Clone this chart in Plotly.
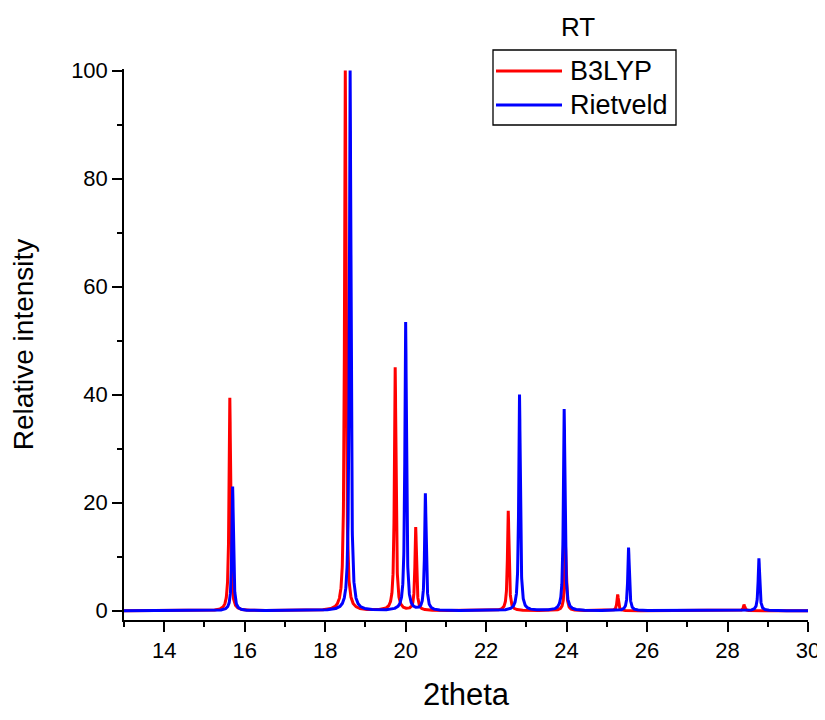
import numpy as np
import plotly.graph_objects as go

# Peak positions (2theta, deg) and relative intensities
b3lyp_pos = [15.63, 18.50, 19.74, 20.25, 22.55, 23.97, 25.27, 28.41]
b3lyp_int = [39.4, 100.0, 45.0, 15.4, 18.5, 12.5, 3.0, 1.1]

rietveld_pos = [15.70, 18.62, 20.00, 20.49, 22.83, 23.94, 25.54, 28.78]
rietveld_int = [23.0, 100.0, 53.4, 21.6, 40.0, 37.3, 11.7, 9.7]

series_names = ["B3LYP", "Rietveld"]
series_colors = ["#ff0000", "#0000ff"]

FWHM = 0.045  # peak width used to render the profiles
x_grid = np.arange(13.0, 30.0001, 0.002)


def profile(positions, intensities):
    y = np.zeros_like(x_grid)
    hw = FWHM / 2.0
    for p, h in zip(positions, intensities):
        y += h * hw**2 / ((x_grid - p) ** 2 + hw**2)
    return y


fig = go.Figure()
for name, color, pos, inten in zip(series_names, series_colors,
                                    [b3lyp_pos, rietveld_pos], [b3lyp_int, rietveld_int]):
    fig.add_trace(go.Scatter(x=x_grid, y=profile(pos, inten), mode="lines",
                             name=name, line=dict(color=color, width=3)))

font_family = "Liberation Sans, Arial, sans-serif"

# the page has an 8px body margin; figure offset by 8px
W, H = 817, 704
L, T = 116, 61
PW, PH = 684, 551
OFF = 8


def px(xp):
    return (xp - OFF - L) / PW


def py(yp):
    return 1 - (yp - OFF - T) / PH


shapes = [dict(type="rect", xref="paper", yref="paper",
               x0=px(493), x1=px(676), y0=py(50), y1=py(125),
               line=dict(color="black", width=1.3), fillcolor="white", layer="above")]
annotations = [dict(text="RT", x=px(578), y=py(27), xref="paper", yref="paper",
                    showarrow=False, xanchor="center", yanchor="middle",
                    font=dict(size=26, family=font_family))]
row_y = [71, 105]
for name, color, ry in zip(series_names, series_colors, row_y):
    shapes.append(dict(type="line", xref="paper", yref="paper",
                       x0=px(496), x1=px(562), y0=py(ry), y1=py(ry),
                       line=dict(color=color, width=3), layer="above"))
    annotations.append(dict(text=name, x=px(568), y=py(ry), xref="paper", yref="paper",
                            showarrow=False, xanchor="left", yanchor="middle",
                            font=dict(size=27, family=font_family)))

fig.update_layout(
    width=W, height=H,
    margin=dict(l=L, r=W - L - PW, t=T, b=H - T - PH, autoexpand=False),
    plot_bgcolor="white", paper_bgcolor="white",
    font=dict(family=font_family, color="black"),
    showlegend=False,
    shapes=shapes,
    annotations=annotations,
)

fig.update_xaxes(
    range=[13, 30], showline=True, linecolor="black", linewidth=1.5,
    ticks="outside", ticklen=10, tickwidth=1.5, tickcolor="black",
    tick0=14, dtick=2, showgrid=False, zeroline=False, automargin=False,
    tickfont=dict(size=22, family=font_family),
    minor=dict(ticks="outside", ticklen=5, tickwidth=1.5, tickcolor="black", dtick=1, tick0=13, showgrid=False),
    title=dict(text="2theta", font=dict(size=31, family=font_family), standoff=34),
)
fig.update_yaxes(
    range=[-1.72, 100.3], showline=True, linecolor="black", linewidth=1.5,
    ticks="outside", ticklen=10, tickwidth=1.5, tickcolor="black",
    tick0=0, dtick=20, showgrid=False, zeroline=False, automargin=False,
    tickfont=dict(size=22, family=font_family),
    minor=dict(ticks="outside", ticklen=5, tickwidth=1.5, tickcolor="black", dtick=10, tick0=0, showgrid=False),
    title=dict(text="Relative intensity", font=dict(size=28, family=font_family), standoff=34),
)

fig.write_html("out.html")
